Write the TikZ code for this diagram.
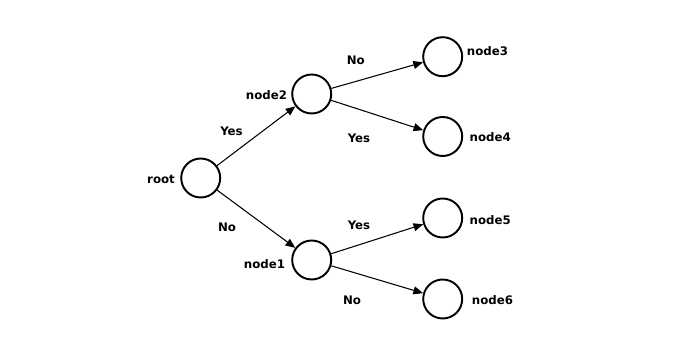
\documentclass[tikz,border=0pt]{standalone}
\usepackage{fontspec}
\setmainfont{DejaVu Sans}
\usetikzlibrary{arrows.meta}

\begin{document}
\begin{tikzpicture}[x=0.02cm,y=-0.02cm,
 state/.style={draw=black,circle,line width=1.1pt,minimum size=0.78cm,inner sep=0pt},
 tag/.style={font=\fontsize{6.7}{8}\selectfont\bfseries,inner sep=0pt},
 >={Triangle[length=5.5pt,width=4.5pt]},every path/.style={line width=.6pt}]
\useasboundingbox (0,0) rectangle (700,350);
% states
\node[state] (root) at (200.7,178) {};
\node[state] (node2) at (311.7,94) {};
\node[state] (node1) at (311.7,260) {};
\node[state] (node3) at (442.7,56.7) {};
\node[state] (node4) at (442.7,136.5) {};
\node[state] (node5) at (442.7,218) {};
\node[state] (node6) at (442.7,299) {};
% names
\node[tag] (rootname) at (161,179.5) {root};
\node[tag] (node2name) at (266.5,95) {node2};
\node[tag] (node1name) at (264.5,264) {node1};
\node[tag] (node3name) at (487.5,50.7) {node3};
\node[tag] (node4name) at (490.2,137.3) {node4};
\node[tag] (node5name) at (490.2,220.2) {node5};
\node[tag] (node6name) at (492.5,300.5) {node6};
% branches
\draw[->] (root)--(node2);
\draw[->] (root)--(node1);
\draw[->] (node2)--(node3);
\draw[->] (node2)--(node4);
\draw[->] (node1)--(node5);
\draw[->] (node1)--(node6);
\node[tag] (yes1) at (231.5,131.7) {Yes};
\node[tag] (no1) at (227,227) {No};
\node[tag] (no2) at (355.8,60) {No};
\node[tag] (yes2) at (359,138.3) {Yes};
\node[tag] (yes3) at (359,225) {Yes};
\node[tag] (no3) at (352,300) {No};
\end{tikzpicture}
\end{document}
